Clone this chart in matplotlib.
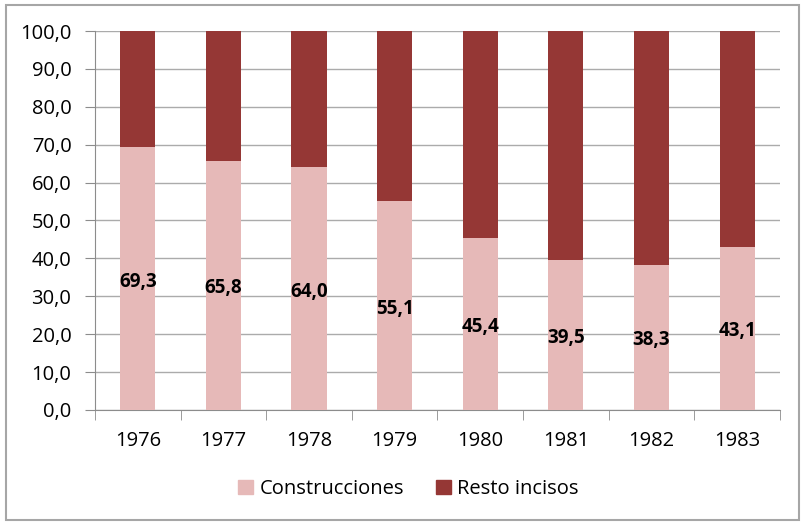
import matplotlib.pyplot as plt
from matplotlib.patches import Rectangle, Patch

years = ['1976', '1977', '1978', '1979', '1980', '1981', '1982', '1983']
construcciones = [69.3, 65.8, 64.0, 55.1, 45.4, 39.5, 38.3, 43.1]
resto = [100 - v for v in construcciones]

light = '#E6B9B8'
dark = '#953735'

plt.rcParams['font.family'] = ['Open Sans', 'DejaVu Sans']

fig = plt.figure(figsize=(8.01, 5.23), dpi=100)
ax = fig.add_axes([0.1186, 0.2161, 0.855, 0.7246])

x = range(len(years))
ax.bar(x, construcciones, width=0.41, color=light, zorder=3)
ax.bar(x, resto, width=0.41, bottom=construcciones, color=dark, zorder=3)

for i, v in enumerate(construcciones):
    ax.text(i, v / 2 - 0.8, f'{v:.1f}'.replace('.', ','), ha='center', va='center',
            fontsize=13.5, fontweight='bold', color='black', zorder=4)

ax.set_xlim(-0.5, len(years) - 0.5)
ax.set_ylim(0, 100)
ax.set_yticks(range(0, 101, 10))
ax.set_yticklabels([f'{t},0' for t in range(0, 101, 10)], fontsize=14.5)
ax.set_xticks(list(x))
ax.set_xticklabels(years, fontsize=14.5)
ax.set_xticks([i + 0.5 for i in range(-1, len(years))], minor=True)
ax.tick_params(axis='x', which='major', length=0, pad=15)
ax.tick_params(axis='x', which='minor', length=7, color='#8c8c8c')
ax.tick_params(axis='y', length=7, color='#8c8c8c', pad=10)

ax.grid(axis='y', color='#ababab', linewidth=1, zorder=0)
for s in ['top', 'right']:
    ax.spines[s].set_visible(False)
for s in ['left', 'bottom']:
    ax.spines[s].set_color('#8c8c8c')

handles = [Patch(color=light, label='Construcciones'),
           Patch(color=dark, label='Resto incisos')]
fig.legend(handles=handles, loc='center', bbox_to_anchor=(0.51, 0.065), ncol=2,
           frameon=False, fontsize=14.5, handlelength=0.75, handleheight=0.75,
           handletextpad=0.3, columnspacing=1.6)

fig.patches.append(Rectangle((0.007, 0.005), 0.99, 0.985, transform=fig.transFigure,
                             fill=False, edgecolor='#a6a6a6', linewidth=1.5))

fig.savefig('out.png', dpi=100)
